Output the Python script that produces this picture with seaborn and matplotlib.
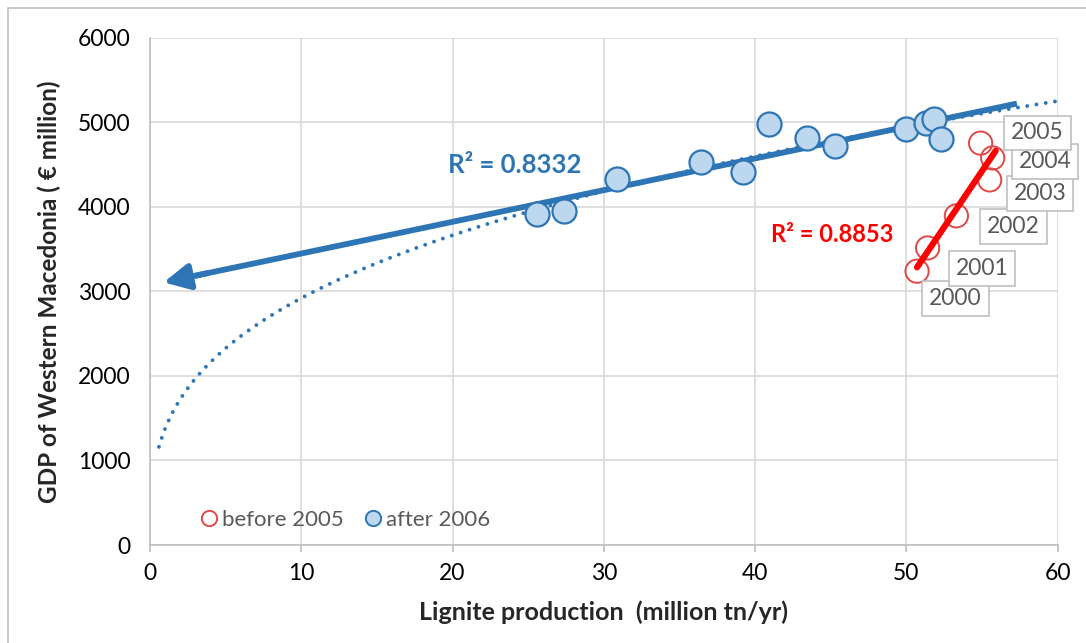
import numpy as np
import pandas as pd
import seaborn as sns
import matplotlib.pyplot as plt
from matplotlib.lines import Line2D
from matplotlib.patches import Rectangle

# Lignite production (million tn/yr) and GDP of Western Macedonia (EUR million)
years_before = [2000, 2001, 2002, 2003, 2004, 2005]
lignite_before = [50.7, 51.4, 53.3, 55.5, 55.7, 54.9]
gdp_before = [3240, 3515, 3895, 4320, 4580, 4755]

lignite_after = [25.6, 27.4, 30.9, 36.4, 39.2, 40.9, 43.4, 45.3, 50.0, 51.3, 51.8, 52.3]
gdp_after = [3915, 3955, 4330, 4535, 4415, 4985, 4815, 4725, 4925, 4995, 5035, 4805]

r2_after_label = "R² = 0.8332"
r2_before_label = "R² = 0.8853"

x_ticks = [0, 10, 20, 30, 40, 50, 60]
y_ticks = [0, 1000, 2000, 3000, 4000, 5000, 6000]

BLUE = "#2E75B6"
BLUE_FILL = "#BDD7EE"
RED = "#FF0000"
RED_MARK = "#E04848"
GREY_TXT = "#595959"

sns.set_theme(style="whitegrid")
plt.rcParams["font.family"] = ["Lato", "DejaVu Sans"]

df_before = pd.DataFrame({"lignite": lignite_before, "gdp": gdp_before, "year": years_before})
df_after = pd.DataFrame({"lignite": lignite_after, "gdp": gdp_after})

fig = plt.figure(figsize=(10.86, 6.43), dpi=100)
ax = fig.add_axes([0.138, 0.1524, 0.836, 0.7886])

# Outer chart frame
fig.patches.append(Rectangle((8 / 1086, -0.05), 1.2, 1 - 8 / 643 + 0.05,
                             transform=fig.transFigure, fill=False,
                             edgecolor="#BFBFBF", linewidth=1.2, zorder=0))

# Trend lines fitted to the after-2006 points
xa = np.array(lignite_after)
ya = np.array(gdp_after)
lin = np.polyfit(xa, ya, 1)
pw = np.polyfit(np.log(xa), np.log(ya), 1)
xp = np.linspace(0.6, 60, 300)
ax.plot(xp, np.exp(pw[1]) * xp ** pw[0], linestyle=(0, (0.01, 2.4)),
        color=BLUE, linewidth=2.8, dash_capstyle="round", zorder=2)
x0, x1 = 0.9, 57.3
ax.plot([x1, 3.0], np.polyval(lin, [x1, 3.0]), color=BLUE, linewidth=4.2, zorder=3,
        solid_capstyle="butt")
ax.annotate("", xy=(x0, np.polyval(lin, x0)), xytext=(3.8, np.polyval(lin, 3.8)),
            arrowprops=dict(arrowstyle="-|>,head_length=1.3,head_width=0.65",
                            color=BLUE, linewidth=4.2, shrinkA=0, shrinkB=0),
            zorder=3)

# Linear fit of the before-2005 points
xb = np.array(lignite_before)
yb = np.array(gdp_before)
linb = np.polyfit(xb, yb, 1)
xr = np.array([50.7, 55.9])
ax.plot(xr, np.polyval(linb, xr), color=RED, linewidth=4.5, zorder=5,
        solid_capstyle="round")

sns.scatterplot(data=df_after, x="lignite", y="gdp", ax=ax, s=300,
                color=BLUE_FILL, edgecolor=BLUE, linewidth=1.6, zorder=4, legend=False)
sns.scatterplot(data=df_before, x="lignite", y="gdp", ax=ax, s=280,
                facecolor="none", edgecolor=RED_MARK, linewidth=1.4, zorder=4, legend=False)

# Year labels in boxes
label_offsets = {2000: (27.6, -19.5), 2001: (39, -14.7), 2002: (41, -7.7),
                 2003: (36.3, -9.8), 2004: (37.6, -2.7), 2005: (41, 7.4)}
for yr, xv, yv in zip(years_before, lignite_before, gdp_before):
    dx, dy = label_offsets[yr]
    ax.annotate(str(yr), (xv, yv), xytext=(dx, dy), textcoords="offset points",
                ha="center", va="center", fontsize=16.5, color=GREY_TXT, zorder=6,
                bbox=dict(boxstyle="square,pad=0.3", facecolor="white",
                          edgecolor="#BFBFBF", linewidth=1.2))

ax.text(24.1, 4500, r2_after_label, color=BLUE, fontsize=18.5, fontweight="bold",
        ha="center", va="center", zorder=6)
ax.text(45.1, 3680, r2_before_label, color=RED, fontsize=17, fontweight="bold",
        ha="center", va="center", zorder=6)

ax.set_xlim(0, 60)
ax.set_ylim(0, 6000)
ax.set_xticks(x_ticks)
ax.set_yticks(y_ticks)
ax.tick_params(axis="both", labelsize=16.5, colors="#000000", pad=8)
ax.tick_params(axis="x", bottom=True, length=5, color="#BFBFBF", direction="out")
ax.grid(True, color="#D9D9D9", linewidth=1.2)
for side in ["top", "right"]:
    ax.spines[side].set_visible(False)
for side in ["left", "bottom"]:
    ax.spines[side].set_color("#BFBFBF")
    ax.spines[side].set_linewidth(1.2)

ax.set_xlabel("Lignite production  (million tn/yr)", fontsize=18, fontweight="bold",
              labelpad=12)
ax.set_ylabel("GDP of Western Macedonia ( € million)", fontsize=17.5, fontweight="bold",
              labelpad=12)

handles = [
    Line2D([], [], marker="o", linestyle="none", markersize=11, markerfacecolor="none",
           markeredgecolor=RED_MARK, markeredgewidth=1.4, label="before 2005"),
    Line2D([], [], marker="o", linestyle="none", markersize=11, markerfacecolor=BLUE_FILL,
           markeredgecolor=BLUE, markeredgewidth=1.4, label="after 2006"),
]
leg = ax.legend(handles=handles, loc="lower left", bbox_to_anchor=(0.031, -0.01), ncol=2,
                frameon=False, fontsize=16, handletextpad=0.1, columnspacing=0.8,
                handlelength=1.0)
for t in leg.get_texts():
    t.set_color(GREY_TXT)

fig.savefig("out.png", dpi=100)
